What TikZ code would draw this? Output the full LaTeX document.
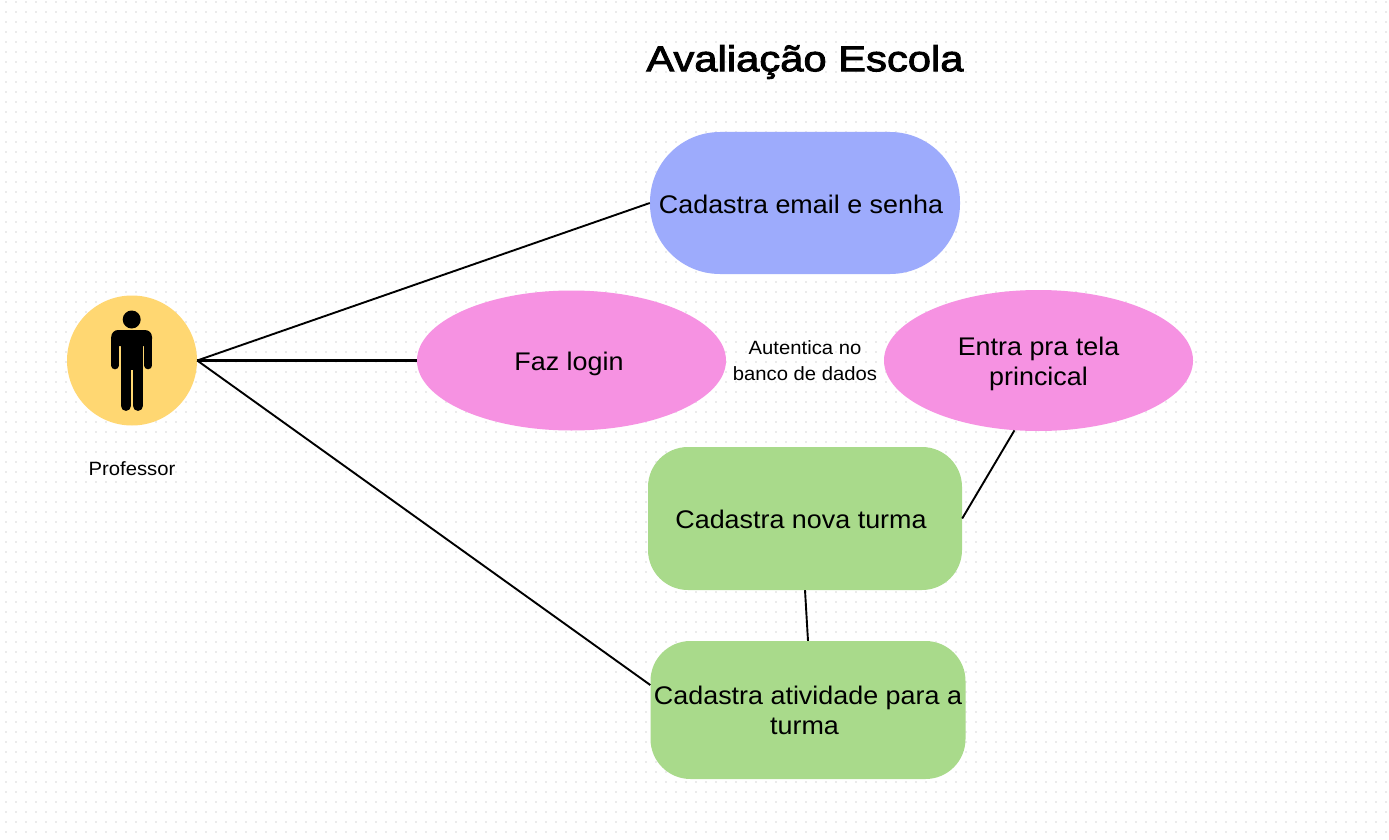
\documentclass[tikz,border=0pt]{standalone}
\usepackage{fontspec}
\setmainfont[FakeStretch=1.055]{Liberation Sans}
\newfontfamily\titlefont[FakeStretch=1.16,FakeBold=2.5]{Liberation Sans}
\definecolor{dotgrey}{HTML}{EBEBEB}
\definecolor{blueuse}{HTML}{9DABFC}
\definecolor{pinkuse}{HTML}{F692E2}
\definecolor{greenuse}{HTML}{A9DA8B}
\definecolor{actoryellow}{HTML}{FFD772}
\usetikzlibrary{shapes.geometric}
\newcommand{\nudgedown}[2]{\raisebox{-#1}[\height][\depth]{\begin{tabular}{@{}c@{}}#2\end{tabular}}}
\tikzset{
  usetext/.style={font=\fontsize{25.5}{30}\selectfont, text=black, align=center, inner sep=0pt, draw=none},
  smalltext/.style={font=\fontsize{19.2}{26}\selectfont, text=black, align=center, inner sep=0pt},
  pill/.style={usetext, rectangle, fill=blueuse, rounded corners=70pt, minimum width=310pt, minimum height=142pt},
  oval/.style={usetext, ellipse, fill=pinkuse, minimum width=309pt, minimum height=140pt},
  card/.style={usetext, rectangle, fill=greenuse, rounded corners=40pt, minimum width=314pt},
  link/.style={draw=black, line width=1.9pt},
  dotrow/.style={draw=dotgrey, line width=2pt, dash pattern=on 2pt off 8pt},
  limb/.style={draw=black, line cap=round},
}
\begin{document}
\begin{tikzpicture}[x=1pt,y=-1pt]
\useasboundingbox (0,0) rectangle (1389,840);
\fill[white] (0,0) rectangle (1389,840);
% dotted canvas
\foreach \j in {0,...,83} { \draw[dotrow] (5.3,{2.3+10*\j}) -- (1389,{2.3+10*\j}); }
% actor
\node[circle, fill=actoryellow, minimum size=130pt, inner sep=0pt] (actor) at (132,360.5) {};
\fill[black] (131.7,319.5) circle (9);
\fill[black, rounded corners=7pt] (111.2,346) -- (111.2,330) -- (152,330) -- (152,346) -- cycle;
\fill[black] (120.6,336) rectangle (143,369.5);
\draw[limb, line width=7.6pt] (115,340) -- (115,365.5);
\draw[limb, line width=7.6pt] (148.2,340) -- (148.2,365.5);
\draw[limb, line width=10.3pt] (125.9,367) -- (125.9,405.8);
\draw[limb, line width=10.3pt] (137.9,367) -- (137.9,405.8);
\node[font=\fontsize{19.2}{22}\selectfont, inner sep=0pt] (proflabel) at (132,469) {Professor};
% title
\node[font=\titlefont\fontsize{36}{40}\selectfont, inner sep=0pt] (title) at (805,62) {Avaliação Escola};
% use cases
\node[pill] (email) at (805,203) {\hspace*{-8pt}\nudgedown{4pt}{Cadastra email e senha}};
\node[oval] (login) at (571.5,360.5) {\hspace*{-5pt}\nudgedown{4pt}{Faz login}};
\node[oval, minimum height=141pt] (tela) at (1038.5,360.5) {\nudgedown{4pt}{Entra pra tela\\princical}};
\node[card, minimum height=143pt] (nova) at (805,518.5) {\hspace*{-8pt}\nudgedown{4pt}{Cadastra nova turma}};
\node[card, minimum height=138pt, minimum width=315pt] (ativ) at (808,710) {Cadastra atividade para a\\turma\hspace*{7pt}};
\node[smalltext] (auth) at (805,361) {Autentica no\\banco de dados};
% connectors
\draw[link] (actor.east) -- (email.west);
\draw[link, line width=2.4pt] (actor.east) -- (login.west);
\draw[link] (actor.east) -- (ativ.171.3);
\draw[link] (tela.251.6) -- (nova.east);
\draw[link] (nova.south) -- (ativ.north);
\end{tikzpicture}
\end{document}
